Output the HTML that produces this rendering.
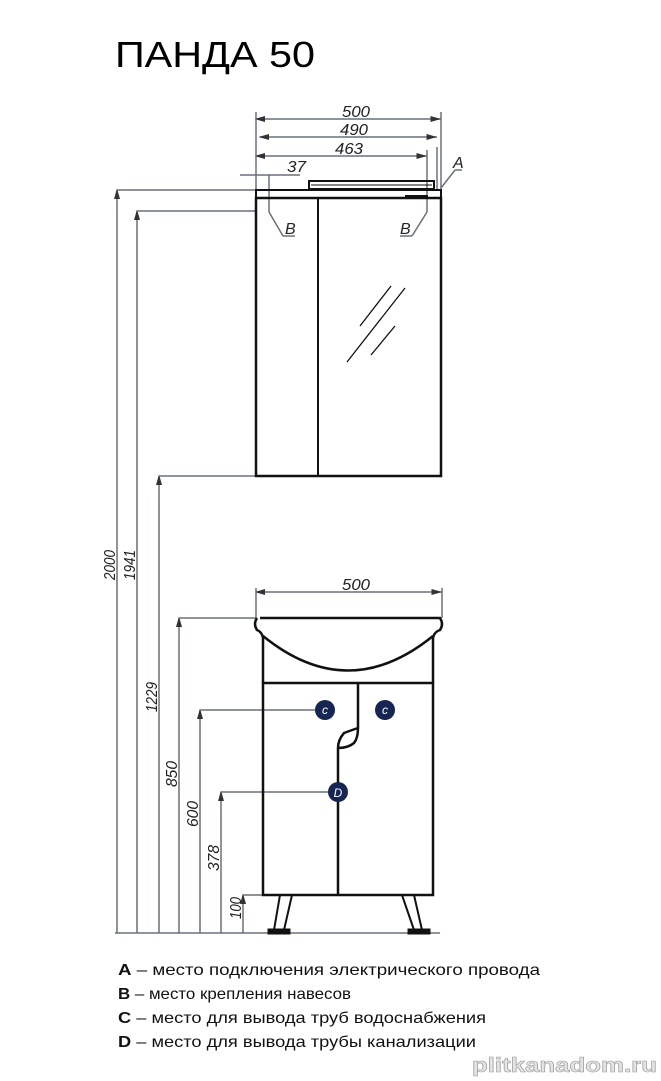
<!DOCTYPE html>
<html><head><meta charset="utf-8"><style>
html,body{margin:0;padding:0;background:#fff;}
svg{display:block;}
text{font-family:"Liberation Sans",sans-serif;}
</style></head><body>
<svg width="661" height="1081" viewBox="0 0 661 1081" xmlns="http://www.w3.org/2000/svg">
<defs>
<marker id="a" markerWidth="8" markerHeight="6" refX="7" refY="3" orient="auto"><path d="M0,1 L7,3 L0,5 z" fill="#333"/></marker>
<marker id="b" markerWidth="8" markerHeight="6" refX="1" refY="3" orient="auto"><path d="M7,1 L0,3 L7,5 z" fill="#333"/></marker>
</defs>
<text x="115" y="67" font-size="36" textLength="200" lengthAdjust="spacingAndGlyphs">ПАНДА 50</text>

<g stroke="#6a707a" stroke-width="1.5" fill="none">
<!-- top dims -->
<line x1="256" y1="119" x2="441" y2="119" marker-start="url(#b)" marker-end="url(#a)"/>
<line x1="260" y1="137" x2="437" y2="137" marker-start="url(#b)" marker-end="url(#a)"/>
<line x1="256" y1="156" x2="427" y2="156" marker-start="url(#b)" marker-end="url(#a)"/>
<line x1="256" y1="112" x2="256" y2="190"/>
<line x1="441" y1="112" x2="441" y2="190"/>
<line x1="437" y1="147" x2="437" y2="190"/>
<line x1="427" y1="150" x2="427" y2="212"/>
<line x1="240" y1="175" x2="300" y2="175"/>
<line x1="269" y1="175" x2="269" y2="212"/>
<line x1="269" y1="212" x2="283" y2="236"/><line x1="283" y1="236" x2="295" y2="236"/>
<line x1="427" y1="212" x2="412" y2="236"/><line x1="412" y1="236" x2="400" y2="236"/>
<line x1="441" y1="188" x2="455" y2="170"/><line x1="455" y1="170" x2="462" y2="170"/>
<!-- vertical dims -->
<line x1="117" y1="190" x2="117" y2="933" marker-start="url(#b)"/>
<line x1="117" y1="190" x2="256" y2="190"/>
<line x1="137" y1="211" x2="137" y2="933" marker-start="url(#b)"/>
<line x1="137" y1="211" x2="256" y2="211"/>
<line x1="159" y1="476" x2="159" y2="933" marker-start="url(#b)"/>
<line x1="159" y1="476" x2="256" y2="476"/>
<line x1="179" y1="618" x2="179" y2="933" marker-start="url(#b)"/>
<line x1="179" y1="618" x2="256" y2="618"/>
<line x1="200" y1="710" x2="200" y2="933" marker-start="url(#b)"/>
<line x1="200" y1="710" x2="318" y2="710"/>
<line x1="221" y1="792" x2="221" y2="933" marker-start="url(#b)"/>
<line x1="221" y1="792" x2="330" y2="792"/>
<line x1="243" y1="895" x2="243" y2="933" marker-start="url(#b)"/>
<line x1="243" y1="895" x2="263" y2="895"/>
<line x1="115" y1="933" x2="440" y2="933"/>
<!-- bottom width -->
<line x1="256" y1="592" x2="442" y2="592" marker-start="url(#b)" marker-end="url(#a)"/>
<line x1="256" y1="588" x2="256" y2="618"/>
<line x1="442" y1="588" x2="442" y2="618"/>
</g>

<g font-size="16" font-style="italic" fill="#222">
<text x="342" y="117" textLength="28" lengthAdjust="spacingAndGlyphs">500</text>
<text x="340" y="135" textLength="28" lengthAdjust="spacingAndGlyphs">490</text>
<text x="335" y="154" textLength="28" lengthAdjust="spacingAndGlyphs">463</text>
<text x="287" y="172" textLength="19" lengthAdjust="spacingAndGlyphs">37</text>
<text x="285" y="234">B</text>
<text x="400" y="234">B</text>
<text x="453" y="168">A</text>
<text x="342" y="590" textLength="28" lengthAdjust="spacingAndGlyphs">500</text>
<text transform="translate(115,580) rotate(-90)" textLength="30" lengthAdjust="spacingAndGlyphs">2000</text>
<text transform="translate(135,580) rotate(-90)" textLength="30" lengthAdjust="spacingAndGlyphs">1941</text>
<text transform="translate(157,712) rotate(-90)" textLength="30" lengthAdjust="spacingAndGlyphs">1229</text>
<text transform="translate(177,787) rotate(-90)" textLength="26" lengthAdjust="spacingAndGlyphs">850</text>
<text transform="translate(198,827) rotate(-90)" textLength="26" lengthAdjust="spacingAndGlyphs">600</text>
<text transform="translate(219,871) rotate(-90)" textLength="26" lengthAdjust="spacingAndGlyphs">378</text>
<text transform="translate(241,919) rotate(-90)" textLength="22" lengthAdjust="spacingAndGlyphs">100</text>
</g>

<!-- mirror cabinet -->
<g stroke="#111" fill="none">
<rect x="309" y="181" width="125" height="8" stroke-width="2"/>
<line x1="311" y1="185" x2="432" y2="185" stroke-width="1"/>
<rect x="256" y="190" width="185" height="8" stroke-width="2"/>
<rect x="256" y="198" width="185" height="278" stroke-width="2.5"/>
<line x1="318" y1="198" x2="318" y2="476" stroke-width="2"/>
<line x1="405" y1="197" x2="428" y2="197" stroke-width="4"/>
<line x1="360" y1="326" x2="391" y2="286" stroke-width="1.3"/>
<line x1="347" y1="362" x2="405" y2="288" stroke-width="1.3"/>
<line x1="371" y1="355" x2="395" y2="326" stroke-width="1.3"/>
</g>

<!-- vanity -->
<g stroke="#111" stroke-width="2.5" fill="none">
<path d="M260,618 L440,618 Q444,624 440,630 Q434,632 433,638 L433,683 M263,683 L263,638 Q262,632 257,630 Q253,624 257,618"/>
<path d="M263,636 Q348,705 433,636"/>
<rect x="263" y="683" width="170" height="212"/>
<path d="M358,683 L358,728 Q352,730 344,733 Q338,740 338,748 Q348,748 354,743 Q358,738 358,728 M338,748 L338,895"/>
<path d="M280,895 L274,930 M292,895 L284,930 M402,895 L414,930 M414,895 L422,930" stroke-width="2"/>
<rect x="268" y="929" width="22" height="5" fill="#111" stroke-width="1"/>
<rect x="408" y="929" width="22" height="5" fill="#111" stroke-width="1"/>
</g>
<g fill="#162552">
<circle cx="325" cy="710" r="10"/><circle cx="385" cy="710" r="10"/><circle cx="338" cy="792" r="10"/>
</g>
<g fill="#fff" font-size="12" font-style="italic" text-anchor="middle">
<text x="325" y="714">c</text><text x="385" y="714">c</text><text x="338" y="797">D</text>
</g>

<g font-size="16" fill="#111">
<text x="118" y="975" textLength="422" lengthAdjust="spacingAndGlyphs"><tspan font-weight="bold">A</tspan> – место подключения электрического провода</text>
<text x="118" y="999" textLength="233" lengthAdjust="spacingAndGlyphs"><tspan font-weight="bold">B</tspan> – место крепления навесов</text>
<text x="118" y="1023" textLength="368" lengthAdjust="spacingAndGlyphs"><tspan font-weight="bold">C</tspan> – место для вывода труб водоснабжения</text>
<text x="118" y="1047" textLength="358" lengthAdjust="spacingAndGlyphs"><tspan font-weight="bold">D</tspan> – место для вывода трубы канализации</text>
</g>
<text x="472" y="1072" font-size="20" font-weight="bold" fill="#e4e4e4" stroke="#999" stroke-width="0.6" textLength="185" lengthAdjust="spacingAndGlyphs">plitkanadom.ru</text>
</svg>
</body></html>
